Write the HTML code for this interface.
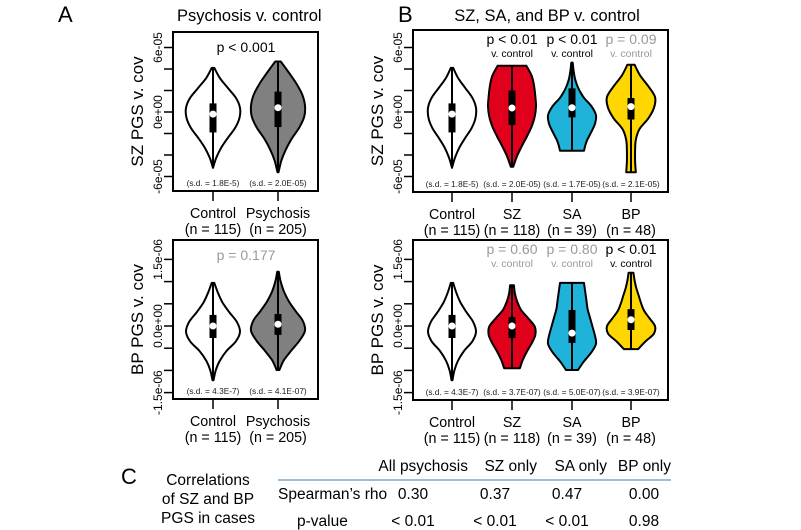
<!DOCTYPE html>
<html><head><meta charset="utf-8"><style>
html,body{margin:0;padding:0;background:#fff}
svg{display:block;font-family:"Liberation Sans",Arial,sans-serif}
</style></head><body>
<svg id="fig" width="801" height="530" viewBox="0 0 801 530">
<text x="58" y="22" font-size="22">A</text>
<text x="177" y="21" font-size="16.5">Psychosis v. control</text>
<text x="398" y="22" font-size="22">B</text>
<text x="547" y="21" font-size="16.5" text-anchor="middle">SZ, SA, and BP v. control</text>
<g>
<text x="121" y="484" font-size="22">C</text>
<text x="208" y="485" font-size="15.5" text-anchor="middle">Correlations</text>
<text x="208" y="504" font-size="15.5" text-anchor="middle">of SZ and BP</text>
<text x="208" y="523" font-size="15.5" text-anchor="middle">PGS in cases</text>
<text x="468" y="471" font-size="15.5" text-anchor="end">All psychosis</text>
<text x="537" y="471" font-size="15.5" text-anchor="end">SZ only</text>
<text x="607" y="471" font-size="15.5" text-anchor="end">SA only</text>
<text x="671" y="471" font-size="15.5" text-anchor="end">BP only</text>
<line x1="278" y1="480" x2="671" y2="480" stroke="#7fa7c9" stroke-width="1.5"/>
<text x="278" y="499" font-size="15.5">Spearman’s rho</text>
<text x="297" y="526" font-size="15.5">p-value</text>
<g font-size="15.5" text-anchor="middle">
<text x="413" y="499">0.30</text>
<text x="495" y="499">0.37</text>
<text x="567" y="499">0.47</text>
<text x="644" y="499">0.00</text>
<text x="413" y="526">&lt; 0.01</text>
<text x="495" y="526">&lt; 0.01</text>
<text x="567" y="526">&lt; 0.01</text>
<text x="644" y="526">0.98</text>
</g></g>
</svg>
<script>
// ---- data (SZ in 1e-5 units, BP in 1e-7 units) ----
const groupsA = ["Control","Psychosis"];
const nA = ["115","205"];
const groupsB = ["Control","SZ","SA","BP"];
const nB = ["115","118","39","48"];
const colorsA = ["#ffffff","#808080"];
const colorsB = ["#ffffff","#e0001b","#1fb3d9","#ffd700"];
// SZ PGS panels
const szLo = {A:[-5.2,-5.6], B:[-5.2,-5.1,-3.6,-5.6]};
const szHi = {A:[4.1,4.7], B:[4.1,4.3,4.6,4.4]};
const szMed = {A:[-0.2,0.4], B:[-0.2,0.37,0.4,0.5]};
const szQ1 = {A:[-1.9,-1.4], B:[-1.9,-1.2,-0.5,-0.7]};
const szQ3 = {A:[0.8,1.9], B:[0.8,2.0,2.2,1.3]};
const szDens = {
 A:[[0,0.12,0.3,0.55,0.82,0.98,1,0.85,0.55,0.25,0.05],
    [0.02,0.12,0.28,0.5,0.78,0.97,1,0.9,0.68,0.4,0.1]],
 B:[[0,0.12,0.3,0.55,0.82,0.98,1,0.85,0.55,0.25,0.05],
    [0.05,0.2,0.4,0.62,0.82,0.95,1,0.97,0.92,0.82,0.6],
    [0.5,0.6,0.78,0.95,1,0.82,0.5,0.28,0.14,0.07,0.03],
    [0.2,0.17,0.17,0.2,0.35,0.72,0.96,1,0.72,0.38,0.15]]};
const szSd = {A:["(s.d. = 1.8E-5)","(s.d. = 2.0E-05)"], B:["(s.d. = 1.8E-5)","(s.d. = 2.0E-05)","(s.d. = 1.7E-05)","(s.d. = 2.1E-05)"]};
// BP PGS panels
const bpLo = {A:[-12.2,-9.9], B:[-12.2,-9.5,-9.9,-5.2]};
const bpHi = {A:[9.7,12.2], B:[9.7,9.2,9.7,12]};
const bpMed = {A:[0,0.4], B:[0,0,-1.6,1.4]};
const bpQ1 = {A:[-2.7,-2], B:[-2.7,-2.7,-3.8,-0.9]};
const bpQ3 = {A:[2.5,2.7], B:[2.5,2,3.6,3.8]};
const bpDens = {
 A:[[0.02,0.1,0.25,0.5,0.85,1,0.88,0.6,0.35,0.18,0.05],
    [0.05,0.22,0.5,0.8,1,0.92,0.65,0.4,0.22,0.1,0.03]],
 B:[[0.02,0.1,0.25,0.5,0.85,1,0.88,0.6,0.35,0.18,0.05],
    [0.33,0.45,0.62,0.82,0.97,0.95,0.68,0.38,0.22,0.12,0.08],
    [0.25,0.5,0.8,1,0.95,0.85,0.75,0.65,0.6,0.55,0.5],
    [0.3,0.6,0.95,1,0.78,0.55,0.42,0.32,0.22,0.15,0.1]]};
const bpSd = {A:["(s.d. = 4.3E-7)","(s.d. = 4.1E-07)"], B:["(s.d. = 4.3E-7)","(s.d. = 3.7E-07)","(s.d. = 5.0E-07)","(s.d. = 3.9E-07)"]};
const szTicks = [-6,-4,-2,0,2,4,6];
const szTickLabels = ["-6e-05","","","0e+00","","","6e-05"];
const bpTicks = [-15,-10,-5,0,5,10,15];
const bpTickLabels = ["-1.5e-06","","","0.0e+00","","","1.5e-06"];
const pA = ["p < 0.001","p = 0.177"];
const pB_sz = ["p < 0.01","p < 0.01","p = 0.09"];
const pB_bp = ["p = 0.60","p = 0.80","p < 0.01"];
const pB_sz_sig = [true,true,false];
const pB_bp_sig = [false,false,true];

const NS="http://www.w3.org/2000/svg";
const svg=document.getElementById('fig');
function mk(tag,attrs,parent){const e=document.createElementNS(NS,tag);for(const k in attrs)e.setAttribute(k,attrs[k]);(parent||svg).appendChild(e);return e;}

function smoothPath(pts){
  let d="";
  for(let i=0;i<pts.length-1;i++){
    const p0=pts[Math.max(i-1,0)],p1=pts[i],p2=pts[i+1],p3=pts[Math.min(i+2,pts.length-1)];
    const c1=[p1[0]+(p2[0]-p0[0])/6,p1[1]+(p2[1]-p0[1])/6];
    const c2=[p2[0]-(p3[0]-p1[0])/6,p2[1]-(p3[1]-p1[1])/6];
    d+=` C${c1[0].toFixed(1)},${c1[1].toFixed(1)} ${c2[0].toFixed(1)},${c2[1].toFixed(1)} ${p2[0].toFixed(1)},${p2[1].toFixed(1)}`;
  }
  return d;
}

function panel(cfg){
  const g=mk('g',{});
  
  
  const y=v=>cfg.zeroY - v*cfg.pxPerUnit;
  cfg.ticks.forEach((t,i)=>{
    const l=mk('line',{x1:cfg.x0-9,x2:cfg.x0,y1:y(t),y2:y(t),stroke:'#000','stroke-width':1.5},g);
    
    
    if(cfg.tickLabels[i]){
      const tx=mk('text',{x:cfg.x0-15,y:y(t)+4,'font-size':12,'text-anchor':'middle',transform:`rotate(-90 ${cfg.x0-15} ${y(t)})`},g);
      tx.textContent=cfg.tickLabels[i];
      
      
    }
  });
  const tx0=cfg.x0-30, ty0=(cfg.top+cfg.bot)/2;
  const yt=mk('text',{x:tx0,y:ty0,'font-size':17,'text-anchor':'middle',transform:`rotate(-90 ${tx0} ${ty0})`},g);
  yt.textContent=cfg.ytitle;
  
  
  cfg.groups.forEach((gn,i)=>{
    const cx=cfg.cx[i];
    const lo=cfg.lo[i],hi=cfg.hi[i],dens=cfg.dens[i];
    const pts=dens.map((d,k)=>[cx+d*cfg.hw, y(lo+(hi-lo)*k/(dens.length-1))]);
    const left=pts.map(p=>[2*cx-p[0],p[1]]).reverse();
    let d=`M${(2*cx-pts[0][0]).toFixed(1)},${pts[0][1].toFixed(1)} L${pts[0][0].toFixed(1)},${pts[0][1].toFixed(1)}`+smoothPath(pts)+` L${left[0][0].toFixed(1)},${left[0][1].toFixed(1)}`+smoothPath(left)+" Z";
    const v=mk('path',{d,fill:cfg.colors[i],stroke:'#000','stroke-width':2,'stroke-linejoin':'round'},g);
    
    
    const w=mk('line',{x1:cx,x2:cx,y1:y(lo),y2:y(hi),stroke:'#000','stroke-width':2},g);
    
    
    const b=mk('rect',{x:cx-3.5,width:7,y:y(cfg.q3[i]),height:y(cfg.q1[i])-y(cfg.q3[i]),fill:'#000'},g);
    
    
    const m=mk('circle',{cx:cx,cy:y(cfg.med[i]),r:3.5,fill:'#fff'},g);
    
    
    const s=mk('text',{x:cx,y:cfg.bot-5,'font-size':8.3,'text-anchor':'middle',fill:'#222'},g);
    s.textContent=cfg.sd[i];
    
    
    const xt=mk('line',{x1:cx,x2:cx,y1:cfg.bot,y2:cfg.bot+10,stroke:'#000','stroke-width':1.5},g);
    
    
    const l1=mk('text',{x:cx,y:cfg.bot+27,'font-size':14.3,'text-anchor':'middle'},g);
    l1.textContent=gn;
    
    
    const l2=mk('text',{x:cx,y:cfg.bot+43,'font-size':14.3,'text-anchor':'middle'},g);
    l2.textContent="(n = "+cfg.n[i]+")";
    
    
  });
  const fr=mk('rect',{x:cfg.x0,y:cfg.top,width:cfg.x1-cfg.x0,height:cfg.bot-cfg.top,fill:'none',stroke:'#000','stroke-width':2},g);
  
  
  return g;
}

const gA1=panel({name:'panel-a-sz',x0:173,x1:318,top:32,bot:191,zeroY:112,pxPerUnit:10.75,ticks:szTicks,tickLabels:szTickLabels,ytitle:'SZ PGS v. cov',
 groups:groupsA,n:nA,colors:colorsA,cx:[213,278],hw:27,lo:szLo.A,hi:szHi.A,med:szMed.A,q1:szQ1.A,q3:szQ3.A,dens:szDens.A,sd:szSd.A});
const gA2=panel({name:'panel-a-bp',x0:173,x1:318,top:240,bot:399,zeroY:326,pxPerUnit:4.44,ticks:bpTicks,tickLabels:bpTickLabels,ytitle:'BP PGS v. cov',
 groups:groupsA,n:nA,colors:colorsA,cx:[213,278],hw:27,lo:bpLo.A,hi:bpHi.A,med:bpMed.A,q1:bpQ1.A,q3:bpQ3.A,dens:bpDens.A,sd:bpSd.A});
const cxB=[452,512,572,631];
const gB1=panel({name:'panel-b-sz',x0:413,x1:668,top:30,bot:192,zeroY:112,pxPerUnit:10.75,ticks:szTicks,tickLabels:szTickLabels,ytitle:'SZ PGS v. cov',
 groups:groupsB,n:nB,colors:colorsB,cx:cxB,hw:24,lo:szLo.B,hi:szHi.B,med:szMed.B,q1:szQ1.B,q3:szQ3.B,dens:szDens.B,sd:szSd.B});
const gB2=panel({name:'panel-b-bp',x0:413,x1:668,top:240,bot:400,zeroY:326,pxPerUnit:4.44,ticks:bpTicks,tickLabels:bpTickLabels,ytitle:'BP PGS v. cov',
 groups:groupsB,n:nB,colors:colorsB,cx:cxB,hw:24,lo:bpLo.B,hi:bpHi.B,med:bpMed.B,q1:bpQ1.B,q3:bpQ3.B,dens:bpDens.B,sd:bpSd.B});

[[gA1,52],[gA2,260]].forEach(([g,yy],i)=>{
  const t=mk('text',{x:246,y:yy,'font-size':14,'text-anchor':'middle',fill:i===0?'#000':'#999'},g);
  t.textContent=pA[i];
  
  
});
[[gB1,pB_sz,pB_sz_sig,44],[gB2,pB_bp,pB_bp_sig,254]].forEach(([g,arr,sig,yy])=>{
  arr.forEach((p,k)=>{
    const cx=cxB[k+1];
    const t=mk('text',{x:cx,y:yy,'font-size':14,'text-anchor':'middle',fill:sig[k]?'#000':'#999'},g);
    t.textContent=p;
    
    
    const t2=mk('text',{x:cx,y:yy+13,'font-size':10.5,'text-anchor':'middle',fill:sig[k]?'#000':'#999'},g);
    t2.textContent='v. control';
    
    
  });
});
</script>
</body></html>
